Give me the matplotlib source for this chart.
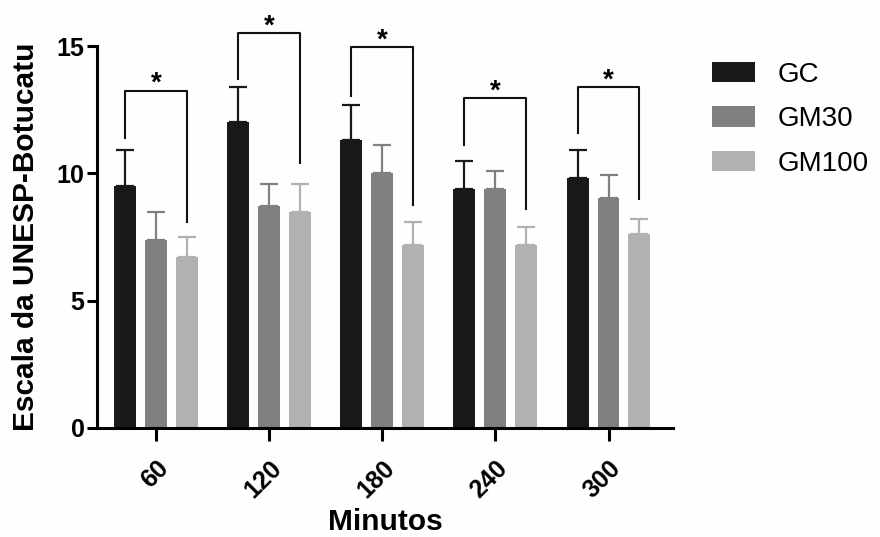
import matplotlib
matplotlib.use("Agg")
import matplotlib.pyplot as plt
import numpy as np

plt.rcParams['font.family'] = ['Liberation Sans', 'DejaVu Sans']

minutos = ['60', '120', '180', '240', '300']
grupos = ['GC', 'GM30', 'GM100']
cores = ['#1a1818', '#808080', '#b1b1b1']

gc = [9.5, 12.0, 11.3, 9.4, 9.8]
gm30 = [7.4, 8.7, 10.0, 9.4, 9.05]
gm100 = [6.7, 8.5, 7.2, 7.2, 7.6]
gc_err = [1.4, 1.4, 1.4, 1.1, 1.1]
gm30_err = [1.1, 0.9, 1.1, 0.7, 0.9]
gm100_err = [0.8, 1.1, 0.9, 0.7, 0.6]

# brackets GC vs GM100: top, left leg bottom, right leg bottom
br_top = [13.25, 15.5, 14.95, 12.95, 13.4]
br_left = [11.4, 13.7, 13.05, 11.1, 11.6]
br_right = [8.1, 10.4, 8.75, 8.6, 9.0]

fig = plt.figure(figsize=(8.8, 5.37), dpi=100)
fig.patch.set_facecolor('#fefefc')
ax = fig.add_axes([0.1102, 0.2030, 0.6546, 0.7113])
ax.set_facecolor('#fefefc')

x = np.arange(len(minutos))
w = 0.194
off = 0.273
series = [gc, gm30, gm100]
errs = [gc_err, gm30_err, gm100_err]
for i, (vals, err) in enumerate(zip(series, errs)):
    pos = x + (i - 1) * off
    ax.bar(pos, vals, width=w, color=cores[i], label=grupos[i], zorder=2)
    ax.errorbar(pos, vals, yerr=[np.zeros(len(vals)), err], fmt='none',
                ecolor=cores[i], elinewidth=1.6, capsize=6.5, capthick=1.6, zorder=1)

for j in range(len(minutos)):
    xl = x[j] - off
    xr = x[j] + off
    ax.plot([xl, xl, xr, xr], [br_left[j], br_top[j], br_top[j], br_right[j]],
            color='#111111', lw=1.5, clip_on=False, zorder=3)
    ax.text(x[j], br_top[j] - 0.25, '*', ha='center', va='bottom',
            fontsize=20, fontweight='bold', clip_on=False)

ax.set_xlim(-0.52, 4.57)
ax.set_ylim(0, 15)
ax.set_yticks([0, 5, 10, 15])
ax.set_xticks(x)
ax.set_xticklabels(minutos, rotation=45, ha='right', rotation_mode='anchor')
ax.tick_params(axis='y', labelsize=18, width=2.2, length=7, pad=2)
ax.tick_params(axis='x', labelsize=18, width=2.2, length=9, pad=11)
for lab in ax.get_xticklabels() + ax.get_yticklabels():
    lab.set_fontweight('bold')
for s in ['top', 'right']:
    ax.spines[s].set_visible(False)
for s in ['left', 'bottom']:
    ax.spines[s].set_linewidth(2.2)

ax.set_ylabel('Escala da UNESP-Botucatu', fontsize=21.5, fontweight='bold', labelpad=12)
ax.set_xlabel('Minutos', fontsize=21.5, fontweight='bold', labelpad=4)

leg = ax.legend(loc='upper left', bbox_to_anchor=(1.024, 1.024), frameon=False,
                fontsize=20, handlelength=1.55, handleheight=0.75,
                labelspacing=0.66, handletextpad=0.83)

fig.savefig('out.png', dpi=100, facecolor=fig.get_facecolor())
